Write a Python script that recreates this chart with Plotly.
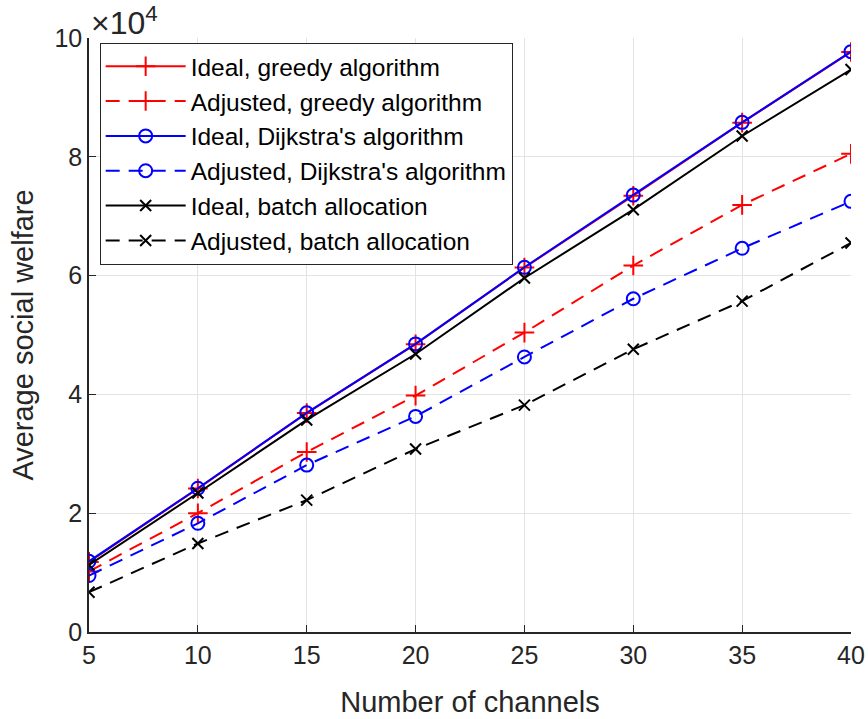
import plotly.graph_objects as go

channels = [5, 10, 15, 20, 25, 30, 35, 40]
ideal_greedy = [11800, 24150, 36850, 48450, 61350, 73450, 85750, 97650]
adjusted_greedy = [10200, 20000, 30300, 39800, 50400, 61700, 71900, 80500]
ideal_dijkstra = [11900, 24200, 36900, 48500, 61400, 73550, 85800, 97700]
adjusted_dijkstra = [9500, 18300, 28100, 36300, 46300, 56100, 64600, 72500]
ideal_batch = [11300, 23400, 35700, 46800, 59600, 71100, 83500, 94700]
adjusted_batch = [6700, 14900, 22200, 30800, 38200, 47600, 55700, 65500]

y_tickvals = [0, 20000, 40000, 60000, 80000, 100000]
y_ticktext = ["0", "2", "4", "6", "8", "10"]
x_tickvals = [5, 10, 15, 20, 25, 30, 35, 40]

FONT = "Liberation Sans, Arial, sans-serif"
TXT = "#262626"

series = [
    ("Ideal, greedy algorithm", ideal_greedy, "#ff0000", "solid", "cross-thin-open", 14),
    ("Adjusted, greedy algorithm", adjusted_greedy, "#ff0000", "14px,9px", "cross-thin-open", 14),
    ("Ideal, Dijkstra's algorithm", ideal_dijkstra, "#0000ff", "solid", "circle-open", 13),
    ("Adjusted, Dijkstra's algorithm", adjusted_dijkstra, "#0000ff", "14px,9px", "circle-open", 13),
    ("Ideal, batch allocation", ideal_batch, "#000000", "solid", "x-thin-open", 11),
    ("Adjusted, batch allocation", adjusted_batch, "#000000", "14px,9px", "x-thin-open", 11),
]

fig = go.Figure()
for name, vals, color, dash, sym, size in series:
    fig.add_trace(go.Scatter(
        x=channels, y=vals, name=name, mode="lines+markers",
        line=dict(color=color, width=2, dash=dash),
        marker=dict(symbol=sym, size=size, color=color, line=dict(color=color, width=2)),
    ))

fig.update_layout(
    width=868, height=719,
    margin=dict(l=89, r=17, t=38, b=87, autoexpand=False),
    paper_bgcolor="white", plot_bgcolor="white",
    font=dict(family=FONT, color=TXT, size=22),
    showlegend=True,
    legend=dict(
        x=0.014, y=0.992, xanchor="left", yanchor="top",
        bordercolor="#262626", borderwidth=1, bgcolor="white",
        font=dict(family=FONT, size=24.5, color="#000000"),
        itemwidth=80, tracegroupgap=0,
    ),
    xaxis=dict(
        range=[5, 40], tickvals=x_tickvals, automargin=False,
        showgrid=True, gridcolor="#e3e3e3", gridwidth=1,
        showline=True, linecolor=TXT, linewidth=1.5,
        ticks="inside", ticklen=7, tickcolor=TXT,
        tickfont=dict(size=25, color=TXT), zeroline=False,
        title=dict(text="Number of channels", font=dict(size=29, color=TXT), standoff=24),
    ),
    yaxis=dict(
        range=[0, 100000], tickvals=y_tickvals, ticktext=y_ticktext, automargin=False,
        showgrid=True, gridcolor="#e3e3e3", gridwidth=1,
        showline=True, linecolor=TXT, linewidth=1.5,
        ticks="inside", ticklen=7, tickcolor=TXT,
        tickfont=dict(size=25, color=TXT), zeroline=False,
        title=dict(text="Average social welfare", font=dict(size=29, color=TXT), standoff=12),
    ),
)

fig.add_annotation(
    xref="paper", yref="paper", x=0.0, y=1.0, xanchor="left", yanchor="bottom",
    text="×10<sup>4</sup>", showarrow=False, xshift=0, yshift=-5,
    font=dict(family=FONT, size=32, color=TXT),
)

fig.write_html("out.html")
